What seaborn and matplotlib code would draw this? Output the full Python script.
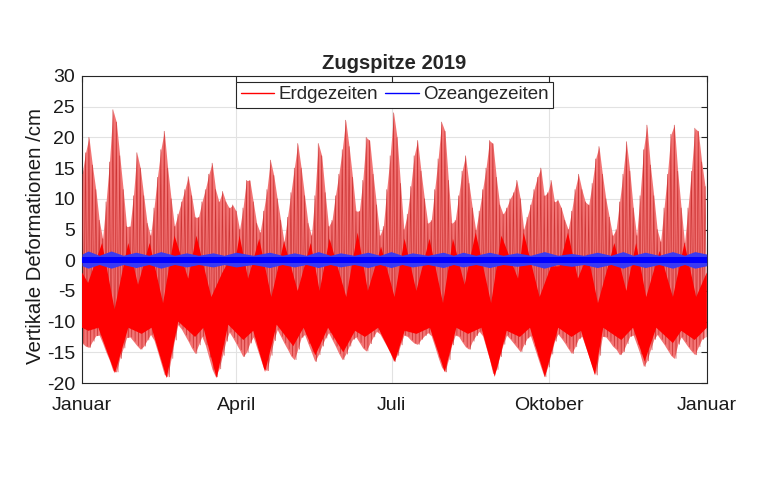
import numpy as np
import matplotlib
matplotlib.use("Agg")
import matplotlib.pyplot as plt
from matplotlib.lines import Line2D
import seaborn as sns

# Werte (cm), Raster 2 Tage ab 1. Januar
tage = np.arange(0, 365, 2)
erd_max = [14, 17.5, 20, 15.5, 11.5, 6.5, 3.5, 9.5, 16, 24.5,
           22.5, 17, 11.5, 5.5, 5.5, 10.5, 17.5, 15, 10.5, 6,
           4, 8.5, 13.5, 18, 21, 15, 10, 5.5, 7.5, 9.5,
           11.5, 13.6, 10.5, 7, 7, 9.5, 11.5, 14, 15.8, 11.5,
           9.5, 11.2, 9.5, 8.5, 9, 8, 5, 8.5, 13, 13,
           9.5, 6, 4.5, 8, 11.5, 16.3, 13.8, 10, 6.5, 3,
           7, 11, 15, 19, 15, 10.5, 6, 4, 10.5, 19,
           17, 11, 5.5, 6.5, 10.5, 14, 18, 22.8, 18.5, 13.5,
           8, 8, 13, 20, 19.5, 14, 9, 4, 5.5, 11.5,
           17, 24, 20, 12.5, 5, 7.5, 12, 17, 19.5, 14.5,
           10, 6, 6.5, 11.5, 16.5, 22.5, 21, 13, 6, 6.5,
           10.5, 14.5, 17, 12.5, 8.5, 4.9, 8, 11.5, 15, 19.5,
           19, 13.5, 9, 7.5, 8.5, 10, 11, 13, 10, 5,
           7, 9, 11.5, 13.5, 15, 10.5, 11, 13, 9.5, 9.8,
           8.5, 6.5, 5, 8, 11.5, 14, 11.5, 9.5, 9, 12.5,
           16.5, 18.5, 14, 10, 7, 4, 5, 9.5, 14, 19.3,
           14.5, 8.5, 4, 10.5, 18, 22, 15.5, 10.5, 5, 3,
           8.5, 14, 20.5, 22, 14.5, 8.5, 2.8, 8.5, 14.5, 21.5,
           21, 16, 12]
erd_min = [-13.5, -14, -14.2, -13.2, -12.3, -12.2, -13.5, -15, -16.3, -18,
           -18.2, -16, -14.3, -12.6, -12.5, -13.2, -13.9, -14.5, -14, -13,
           -12.1, -13, -14.8, -16.7, -18.6, -19, -16, -13, -10.5, -11.2,
           -12.2, -13.2, -14.3, -15.2, -13.8, -12.4, -13.8, -15.8, -17.8, -19,
           -17.7, -15.5, -13.2, -11.7, -12.6, -13.6, -14.6, -15.7, -15, -13.5,
           -12.5, -14.2, -15.9, -17.6, -18, -15.5, -13.1, -11.3, -12.4, -13.5,
           -14.5, -15.6, -16.2, -14.5, -12.6, -12.1, -13.6, -15, -16.5, -15.4,
           -14, -12.7, -11.8, -12.9, -14, -15.2, -16.2, -15.3, -14, -12.9,
           -12.5, -13.4, -14.3, -14.8, -13.6, -12.5, -11.6, -12, -13, -14,
           -15.1, -16.5, -15.5, -13.8, -12.2, -12.4, -13, -13.5, -13.7, -12.9,
           -12.3, -11.8, -12.3, -14, -15.8, -17.4, -18.2, -16.2, -13.8, -12.2,
           -12.4, -13.3, -14.1, -14.5, -13.2, -12.3, -11.6, -12.3, -14.2, -16.1,
           -18.5, -17.8, -15.7, -13.7, -12.2, -12.8, -13.5, -14.2, -14.9, -13.8,
           -12.7, -12.3, -14, -15.7, -17.4, -19, -17.4, -15.3, -13.2, -12,
           -12.7, -13.5, -14.4, -15.2, -14.1, -12.8, -12.4, -14, -15.6, -17.3,
           -18.7, -15.5, -12.4, -12.5, -13.2, -14, -14.5, -15.4, -14.9, -13.6,
           -12.4, -12.2, -13.7, -15.3, -17.3, -16.4, -14.6, -12.9, -12.1, -12.9,
           -13.7, -14.6, -15.5, -16, -13.7, -12.5, -13.3, -14.1, -14.8, -15.4,
           -14.1, -12.9, -12.5]

# Bereich, den beide Tiden eines Tages ueberstreichen (satte Flaeche)
dicht_oben_tage = [0, 3.5, 11.7, 19, 27, 32.7, 39.5, 47.3, 54, 62,
                   66.8, 75.5, 82, 86, 89, 92, 97, 103.5, 110.6, 118,
                   126, 133.6, 138.8, 144.6, 154.4, 161, 167, 174.7, 182.6, 188.4,
                   195.3, 203, 210.9, 216.7, 223.5, 230, 239, 245, 254.7, 258,
                   267.3, 274, 278.8, 283.9, 289.7, 295.5, 301.4, 311, 318, 323.7,
                   329.6, 337.4, 345.2, 352, 358.8, 365]
dicht_oben = [-2, -3.7, 2.8, -8, 2.8, -4, 2.8, -7, 4, -3,
              4, -6, -2, 0, -1, 4, -3, 3.5, -6, 3,
              -5, 2.8, -5, 3.5, -6, 4.5, -5, 2.2, -6, 3.5,
              -5, 3.5, -7, 3.5, -4, 4.5, -7, 4, -3, 4.5,
              -6, -1, -1, 4.5, -3, 1, -7, 2.8, -5, 2.8,
              -6, 1.5, -6, 2.8, -6, -2]
dicht_unten_tage = [0, 3.7, 9.5, 19.2, 27, 34.8, 40.6, 49.4, 56.2, 66,
                    70.9, 78.6, 85.4, 94.2, 100, 106.9, 113.7, 123.4, 129.4, 136.3,
                    143.7, 152.6, 159.5, 165.3, 173, 182.7, 188.5, 195.4, 203.2, 211.9,
                    218.7, 225.5, 233.3, 241.1, 248.1, 255.8, 261.7, 270.4, 278.2, 286,
                    291.5, 299.6, 304.5, 315.1, 321.9, 328.7, 335.5, 345.2, 350.1, 357.9,
                    365]
dicht_unten = [-11, -11.5, -11, -18.4, -11, -12, -11, -19.2, -10, -12.5,
               -11, -19.2, -10.5, -13, -11.5, -18.2, -10.5, -14, -11, -15.5,
               -11, -15, -11.5, -12.5, -11, -16.5, -11.5, -12, -11, -18.2,
               -11, -12, -11, -19, -11.5, -12.5, -11, -19, -11, -12.5,
               -11.5, -18.7, -11, -13, -11, -16.5, -11, -13.5, -11.5, -13,
               -11]

# Ozeangezeiten: Huellkurve
ozean_tage = [0, 3.5, 10, 17, 24, 31.5, 39, 46, 54, 61,
              68, 76.5, 83, 90, 100, 109.6, 117, 124, 131, 138,
              145, 151, 159, 167, 174, 180.5, 187, 193, 202, 211,
              217, 222.5, 230, 238, 246, 254, 262, 270, 278, 286,
              293, 301, 309, 316, 322, 329, 337, 345, 352, 358, 365]
ozean_max = [1.0, 1.5, 0.8, 1.5, 0.8, 1.3, 0.8, 1.4, 0.8, 1.2,
             0.8, 1.2, 0.8, 1.3, 0.8, 1.3, 0.8, 1.2, 0.8, 1.4,
             0.8, 1.2, 0.8, 1.3, 0.8, 1.4, 0.8, 1.2, 0.8, 1.3,
             0.8, 1.3, 0.8, 1.3, 0.8, 1.2, 0.8, 1.4, 0.8, 1.1,
             0.8, 1.3, 0.8, 1.4, 0.8, 1.3, 0.8, 1.4, 0.8, 1.4, 1.0]
ozean_min = [-0.9, -1.3, -0.7, -1.3, -0.7, -1.2, -0.7, -1.3, -0.7, -1.1,
             -0.7, -1.1, -0.7, -1.1, -0.7, -1.2, -0.7, -1.1, -0.7, -1.2,
             -0.7, -1.1, -0.7, -1.2, -0.7, -1.2, -0.7, -1.1, -0.7, -1.2,
             -0.7, -1.1, -0.7, -1.2, -0.7, -1.0, -0.7, -1.3, -0.7, -1.0,
             -0.7, -1.2, -0.7, -1.3, -0.7, -1.2, -0.7, -1.3, -0.7, -1.3, -0.9]
ozean_kern = (-0.5, 0.6)

monat_tage = [0, 90, 181, 273, 365]
monat_namen = ["Januar", "April", "Juli", "Oktober", "Januar"]

sns.set_theme(style="whitegrid")
plt.rcParams["font.family"] = ["Liberation Sans", "DejaVu Sans"]
plt.rcParams["axes.unicode_minus"] = False

fig, ax = plt.subplots(figsize=(7.6, 5.0), dpi=100)
fig.subplots_adjust(left=0.108, right=0.930, top=0.848, bottom=0.234)

# Erdgezeiten: helle Huelle, Einzelschwingungen, satter Kern
ax.fill_between(tage, erd_min, erd_max, color="#f27474", lw=0, zorder=2)
zz_x = np.column_stack([tage, tage + 1]).ravel()
zz_y = np.column_stack([erd_max, erd_min]).ravel()
sns.lineplot(x=zz_x, y=zz_y, sort=False, estimator=None, color="#c42424",
             lw=0.5, alpha=0.8, ax=ax, zorder=3)
ax.fill(list(dicht_oben_tage) + dicht_unten_tage[::-1],
        list(dicht_oben) + dicht_unten[::-1], color="#ff0000", lw=0, zorder=4)

# Ozeangezeiten
ax.fill_between(ozean_tage, ozean_min, ozean_max, color="#3a3af2", lw=0, zorder=5)
ax.fill_between([0, 365], ozean_kern[0], ozean_kern[1], color="#0000ff", lw=0, zorder=6)

ax.set_xlim(0, 365)
ax.set_ylim(-20, 30)
ax.set_xticks(monat_tage)
ax.set_xticklabels(monat_namen)
ax.set_yticks(np.arange(-20, 31, 5))
ax.grid(True, color="#e2e2e2", lw=0.8)
ax.set_axisbelow(True)
for s in ax.spines.values():
    s.set_visible(True)
    s.set_color("#262626")
    s.set_linewidth(0.8)
ax.tick_params(direction="in", length=4, width=0.8, color="#262626",
               top=True, right=True, labelsize=14, labelcolor="#1a1a1a")
ax.tick_params(axis="x", pad=10)
ax.tick_params(axis="y", pad=5)

ax.set_ylabel("Vertikale Deformationen /cm", fontsize=14.7, color="#1a1a1a")
ax.yaxis.set_label_coords(-0.059, 0.479)
ax.set_xlabel("")
ax.set_title("Zugspitze 2019", fontsize=14.5, fontweight="bold", pad=5)

griffe = [Line2D([], [], color="#ff0000", lw=1.0), Line2D([], [], color="#0000ff", lw=1.0)]
leg = ax.legend(griffe, ["Erdgezeiten", "Ozeangezeiten"], loc="upper center", ncol=2,
                fontsize=13.5, frameon=True, fancybox=False, framealpha=1,
                edgecolor="#262626", handlelength=1.8, handletextpad=0.2,
                columnspacing=0.4, borderpad=0.25, borderaxespad=0.3)
leg.get_frame().set_linewidth(0.8)
leg.set_zorder(10)

fig.savefig("out.png", dpi=100, facecolor="white")
